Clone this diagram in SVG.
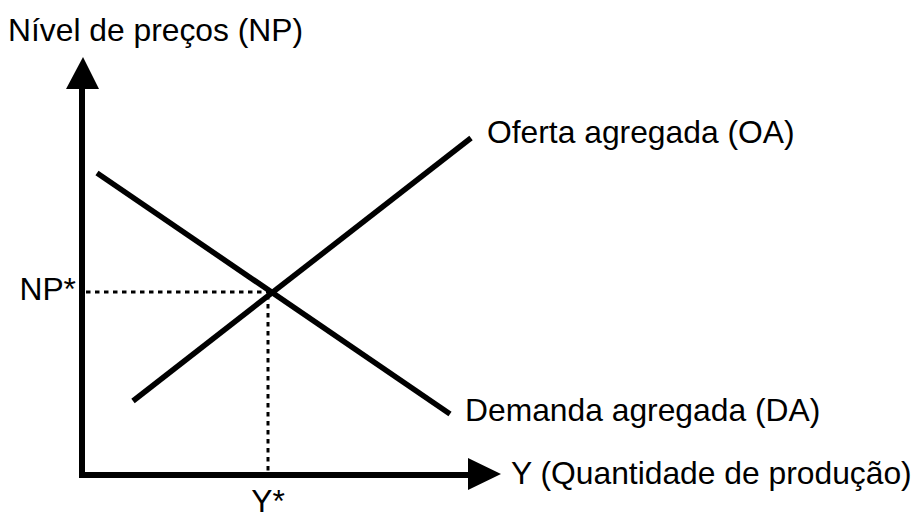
<svg xmlns="http://www.w3.org/2000/svg" width="920" height="513" viewBox="0 0 920 513">
<style>
.axis{stroke:#000;stroke-width:6;fill:none}
.curve{stroke:#000;stroke-width:5.5;fill:none}
.dot{stroke:#000;stroke-width:3;stroke-dasharray:4.5 4.5;fill:none}
.head{fill:#000}
text{font-family:"Liberation Sans",Arial,sans-serif;font-size:31.8px;fill:#000}
</style>
<rect width="920" height="513" fill="#fff"/>
<g id="connectors">
<line class="axis" x1="82" y1="86" x2="82" y2="478"/>
<line class="axis" x1="79" y1="475" x2="470" y2="475"/>
<polygon class="head" points="83,57 66,89 99,89"/>
<polygon class="head" points="501,474 468,458 468,490"/>
<line class="dot" x1="86" y1="292" x2="269" y2="292"/>
<line class="dot" x1="268" y1="295" x2="268" y2="472"/>
</g>
<g id="oa">
<line class="curve" x1="133" y1="401" x2="471" y2="138"/>
<text x="487" y="143">Oferta agregada (OA)</text>
</g>
<g id="da">
<line class="curve" x1="97" y1="173" x2="450" y2="414"/>
<text x="465" y="421">Demanda agregada (DA)</text>
</g>
<g id="y-axis-label"><text x="8" y="40.5">Nível de preços (NP)</text></g>
<g id="x-axis-label"><text x="511" y="484">Y (Quantidade de produção)</text></g>
<g id="np-star"><text x="76" y="300" text-anchor="end">NP*</text></g>
<g id="y-star"><text x="268" y="512" text-anchor="middle">Y*</text></g>
</svg>
